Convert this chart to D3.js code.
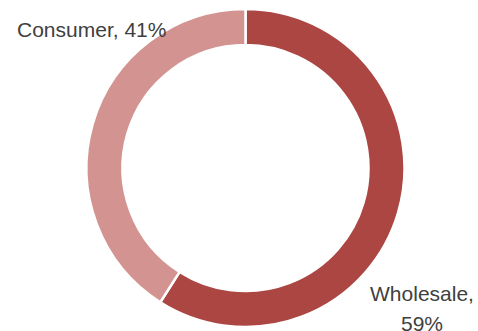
<!DOCTYPE html>
<html><head><meta charset="utf-8">
<script src="https://cdn.jsdelivr.net/npm/d3@7"></script>
<style>body{margin:0;background:#fff}svg{display:block}</style>
</head><body>
<svg id="c" width="478" height="331"></svg>
<script>
const categories = ["Wholesale", "Consumer"];
const values = [59, 41];
const colors = ["#AB4643", "#D39391"];

const svg = d3.select("#c");
const cx = 245.5, cy = 168, R = 159, r = 123;
const pie = d3.pie().sort(null).value(d => d.v);
const arcs = pie(categories.map((c, i) => ({c, v: values[i], col: colors[i]})));
const arc = d3.arc().innerRadius(r).outerRadius(R);
const g = svg.append("g").attr("transform", `translate(${cx},${cy})`);
g.selectAll("path").data(arcs).join("path")
  .attr("d", arc).attr("fill", d => d.data.col)
  .attr("stroke", "#fff").attr("stroke-width", 2.5);

const font = "'Liberation Sans', Arial, sans-serif";
svg.append("text").attr("x", 17).attr("y", 37)
  .attr("font-family", font).attr("font-size", 21).attr("fill", "#404040")
  .text(`${categories[1]}, ${values[1]}%`);
const t2 = svg.append("text").attr("text-anchor", "middle")
  .attr("font-family", font).attr("font-size", 21).attr("fill", "#404040");
t2.append("tspan").attr("x", 422).attr("y", 301).text(`${categories[0]},`);
t2.append("tspan").attr("x", 422).attr("y", 331).text(`${values[0]}%`);
</script>
</body></html>
